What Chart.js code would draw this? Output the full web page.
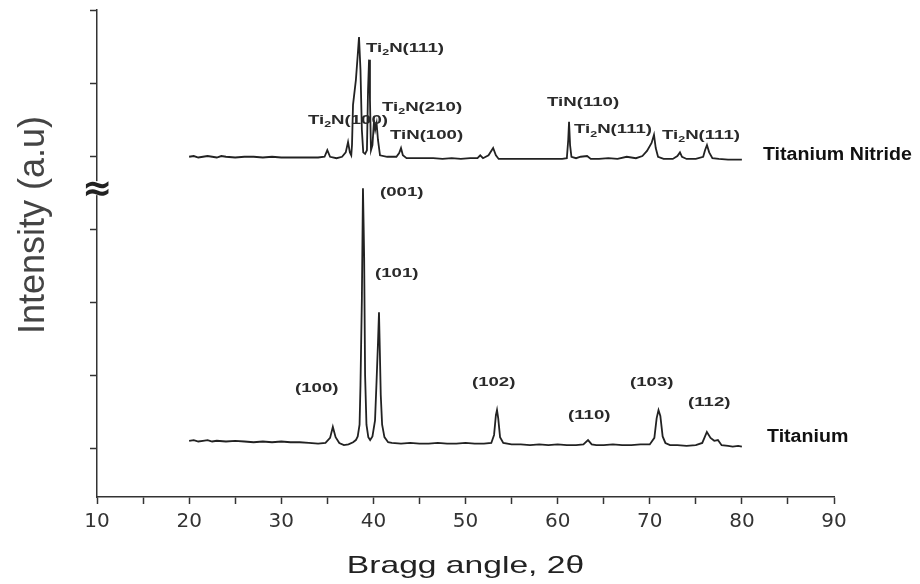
<!DOCTYPE html>
<html>
<head>
<meta charset="utf-8">
<script src="https://cdn.jsdelivr.net/npm/chart.js@4.4.1/dist/chart.umd.min.js"></script>
<style>
  html, body { margin: 0; padding: 0; background: #fff; }
  #wrap { width: 920px; height: 584px; position: relative; }
</style>
</head>
<body>
<div id="wrap"><canvas id="xrd"></canvas></div>
<script>
// Titanium pattern (lower trace), intensity in arbitrary units
const tiAngle = [20.0, 20.5, 21.0, 21.5, 22.0, 22.5, 23.0, 24.0, 25.0, 26.0, 27.0, 28.0, 29.0, 30.0, 31.0, 32.0, 33.0, 34.0, 34.8,
  35.3, 35.6, 35.9, 36.3, 36.8, 37.3, 37.8, 38.1, 38.3, 38.5, 38.6, 38.75, 38.87, 38.95, 39.0, 39.1, 39.25, 39.45, 39.65, 39.9,
  40.18, 40.35, 40.5, 40.61, 40.7, 40.8, 40.95, 41.2, 41.6, 42.0, 43.0, 44.0, 45.0, 46.0, 47.0, 48.0, 49.0, 50.0, 51.0, 52.0,
  52.8, 53.1, 53.3, 53.42, 53.55, 53.75, 54.1, 55.0, 56.0, 57.0, 58.0, 59.0, 60.0, 61.0, 62.0, 62.8, 63.3, 63.7, 64.2, 65.0,
  66.0, 67.0, 68.0, 69.0, 70.0, 70.5, 70.75, 70.95, 71.15, 71.4, 71.7, 72.2, 73.0, 74.0, 75.0, 75.7, 76.0, 76.2, 76.6, 77.0,
  77.4, 77.8, 78.5, 79.0, 79.6, 80.0];
const tiIntensity = [0.10, 0.11, 0.09, 0.10, 0.11, 0.09, 0.10, 0.09, 0.10, 0.09, 0.08, 0.09, 0.08, 0.09, 0.08, 0.08, 0.07, 0.06, 0.07,
  0.14, 0.29, 0.15, 0.07, 0.04, 0.05, 0.08, 0.11, 0.16, 0.32, 0.86, 2.03, 3.56, 2.99, 2.60, 1.00, 0.32, 0.15, 0.11, 0.16,
  0.38, 0.93, 1.44, 1.86, 1.34, 0.73, 0.32, 0.15, 0.08, 0.07, 0.06, 0.07, 0.06, 0.06, 0.07, 0.06, 0.06, 0.07, 0.06, 0.06,
  0.07, 0.18, 0.45, 0.52, 0.41, 0.15, 0.07, 0.05, 0.05, 0.04, 0.05, 0.04, 0.05, 0.04, 0.04, 0.05, 0.11, 0.05, 0.04, 0.04,
  0.05, 0.04, 0.04, 0.05, 0.05, 0.14, 0.41, 0.52, 0.44, 0.16, 0.07, 0.04, 0.04, 0.03, 0.04, 0.07, 0.16, 0.22, 0.14, 0.10,
  0.11, 0.04, 0.03, 0.02, 0.03, 0.02];

// Titanium Nitride pattern (upper trace, offset above the axis break)
const tinAngle = [20.0, 20.5, 21.0, 21.5, 22.0, 22.5, 23.0, 23.5, 24.0, 25.0, 26.0, 27.0, 28.0, 29.0, 30.0, 31.0, 32.0, 33.0, 34.0,
  34.7, 35.0, 35.3, 36.0, 36.6, 37.0, 37.25, 37.45, 37.6, 37.68, 37.79, 38.1, 38.3, 38.44, 38.6, 38.75, 38.9, 39.1, 39.3,
  39.42, 39.53, 39.63, 39.74, 39.9, 40.07, 40.2, 40.35, 40.5, 40.72, 41.5, 42.5, 42.8, 43.0, 43.2, 43.6, 44.5, 45.5, 46.5,
  47.5, 48.5, 49.5, 50.5, 51.3, 51.6, 51.9, 52.5, 53.0, 53.3, 53.6, 54.5, 55.5, 56.5, 57.5, 58.5, 59.5, 60.5, 61.0, 61.15,
  61.24, 61.35, 61.5, 62.0, 62.5, 63.2, 63.6, 64.5, 65.5, 66.5, 67.5, 68.5, 69.2, 69.7, 70.2, 70.46, 70.65, 70.9, 71.5,
  72.5, 73.0, 73.28, 73.5, 74.0, 75.0, 75.8, 76.0, 76.21, 76.45, 76.8, 77.5, 78.5, 79.5, 80.0];
const tinIntensity = [3.99, 4.00, 3.98, 3.99, 4.00, 3.99, 3.98, 4.00, 3.99, 3.98, 3.99, 3.99, 3.98, 3.99, 3.98, 3.98, 3.98, 3.98, 3.98,
  3.99, 4.08, 3.99, 3.97, 3.99, 4.05, 4.19, 4.05, 4.01, 4.15, 4.70, 5.04, 5.38, 5.63, 5.18, 4.36, 4.05, 4.03, 4.08,
  4.90, 5.32, 4.77, 4.08, 4.15, 4.49, 4.36, 4.45, 4.22, 4.01, 3.99, 3.99, 4.04, 4.11, 4.01, 3.97, 3.97, 3.97, 3.97,
  3.96, 3.97, 3.96, 3.97, 3.97, 4.01, 3.97, 4.01, 4.11, 4.01, 3.96, 3.96, 3.96, 3.96, 3.96, 3.96, 3.96, 3.96, 3.97, 4.22,
  4.47, 4.15, 3.99, 3.97, 3.99, 4.00, 3.96, 3.96, 3.97, 3.96, 3.99, 3.97, 4.00, 4.07, 4.18, 4.29, 4.11, 3.99, 3.96,
  3.96, 4.00, 4.05, 3.99, 3.96, 3.96, 3.99, 4.08, 4.15, 4.05, 3.97, 3.96, 3.95, 3.95, 3.95];

// Peak and series labels: text, anchor (2theta, intensity), left aligned
const peakLabels = [
  { text: 'Ti₂N(111)', x: 39.2, y: 5.48 },
  { text: 'Ti₂N(210)', x: 40.94, y: 4.67 },
  { text: 'TiN(100)', x: 41.8, y: 4.29 },
  { text: 'Ti₂N(100)', x: 32.9, y: 4.49 },
  { text: 'TiN(110)', x: 58.85, y: 4.74 },
  { text: 'Ti₂N(111)', x: 61.78, y: 4.36 },
  { text: 'Ti₂N(111)', x: 71.33, y: 4.29 },
  { text: '(001)', x: 40.72, y: 3.51 },
  { text: '(101)', x: 40.18, y: 2.40 },
  { text: '(100)', x: 31.49, y: 0.82 },
  { text: '(102)', x: 50.7, y: 0.90 },
  { text: '(110)', x: 61.13, y: 0.45 },
  { text: '(103)', x: 67.86, y: 0.90 },
  { text: '(112)', x: 74.15, y: 0.63 }
];
const seriesLabels = [
  { text: 'Titanium Nitride', x: 82.29, y: 4.01 },
  { text: 'Titanium', x: 82.73, y: 0.15 }
];

const breakAt = 3.56; // axis break marker position (y units)

const toPoints = (xs, ys) => xs.map((x, i) => ({ x, y: ys[i] }));

// draws text stretched horizontally, with "₂" rendered as a real subscript
const drawLabel = (ctx, text, x, y, size, weight, sx) => {
  ctx.save();
  ctx.translate(x, y);
  ctx.scale(sx, 1);
  ctx.textBaseline = 'middle';
  ctx.textAlign = 'left';
  const parts = text.split('₂');
  let cx = 0;
  parts.forEach((part, i) => {
    ctx.font = `${weight} ${size}px "Liberation Sans", Arial, sans-serif`;
    ctx.fillText(part, cx, 0);
    cx += ctx.measureText(part).width;
    if (i < parts.length - 1) {
      ctx.font = `${weight} ${Math.round(size * 0.7)}px "Liberation Sans", Arial, sans-serif`;
      ctx.fillText('2', cx, size * 0.35);
      cx += ctx.measureText('2').width;
    }
  });
  ctx.restore();
};

const annotations = {
  id: 'annotations',
  afterDraw(chart) {
    const { ctx, scales: { x, y } } = chart;

    ctx.save();
    ctx.fillStyle = '#2a2a2a';
    peakLabels.forEach(l => {
      drawLabel(ctx, l.text, x.getPixelForValue(l.x), y.getPixelForValue(l.y), 13.5, 'bold', 1.38);
    });
    ctx.fillStyle = '#111';
    seriesLabels.forEach(l => {
      drawLabel(ctx, l.text, x.getPixelForValue(l.x), y.getPixelForValue(l.y), 17.5, 'bold', 1.12);
    });

    // axis break on the y axis
    const bx = chart.chartArea.left;
    const by = y.getPixelForValue(breakAt);
    ctx.fillStyle = '#fff';
    ctx.fillRect(bx - 3, by - 7, 6, 14);
    ctx.fillStyle = '#222';
    ctx.font = 'bold 36px "DejaVu Sans", sans-serif';
    ctx.textAlign = 'center';
    ctx.textBaseline = 'middle';
    ctx.fillText('≈', bx, by + 2);

    // axis titles
    ctx.fillStyle = '#222';
    ctx.save();
    ctx.translate((chart.chartArea.left + chart.chartArea.right) / 2, 566);
    ctx.scale(1.4, 1);
    ctx.font = '24px "Liberation Sans", Arial, sans-serif';
    ctx.textAlign = 'center';
    ctx.fillText('Bragg angle, 2θ', 0, 0);
    ctx.restore();

    ctx.fillStyle = '#444';
    ctx.save();
    ctx.translate(34, 225);
    ctx.rotate(-Math.PI / 2);
    ctx.font = '36px "Liberation Sans", Arial, sans-serif';
    ctx.textAlign = 'center';
    ctx.fillText('Intensity (a.u)', 0, 0);
    ctx.restore();
    ctx.restore();
  }
};

new Chart(document.getElementById('xrd'), {
  type: 'line',
  data: {
    datasets: [
      {
        label: 'Titanium Nitride',
        data: toPoints(tinAngle, tinIntensity),
        borderColor: '#222',
        borderWidth: 1.8,
        pointRadius: 0,
        tension: 0
      },
      {
        label: 'Titanium',
        data: toPoints(tiAngle, tiIntensity),
        borderColor: '#222',
        borderWidth: 1.8,
        pointRadius: 0,
        tension: 0
      }
    ]
  },
  options: {
    responsive: true,
    maintainAspectRatio: false,
    animation: false,
    layout: { padding: { top: 10, right: 86, left: 0, bottom: 0 } },
    plugins: {
      legend: { display: false },
      tooltip: { enabled: false }
    },
    scales: {
      x: {
        type: 'linear',
        min: 10,
        max: 90,
        afterFit: s => { s.height = 87; },
        border: { color: '#333', width: 1.5 },
        grid: { drawOnChartArea: false, drawTicks: true, tickLength: 7, color: '#333', tickWidth: 1.5 },
        ticks: {
          stepSize: 5,
          autoSkip: false,
          maxRotation: 0,
          padding: 6,
          color: '#333',
          font: { family: '"DejaVu Sans", sans-serif', size: 20 },
          callback: v => (v % 10 === 0 ? v : '')
        }
      },
      y: {
        min: -0.67,
        max: 6,
        afterFit: s => { s.width = 97; },
        afterBuildTicks: s => { s.ticks = s.ticks.filter(t => Number.isInteger(t.value)); },
        border: { color: '#333', width: 1.5 },
        grid: { drawOnChartArea: false, drawTicks: true, tickLength: 7, color: '#333', tickWidth: 1.5 },
        ticks: { display: false, stepSize: 1 }
      }
    }
  },
  plugins: [annotations]
});
</script>
</body>
</html>
